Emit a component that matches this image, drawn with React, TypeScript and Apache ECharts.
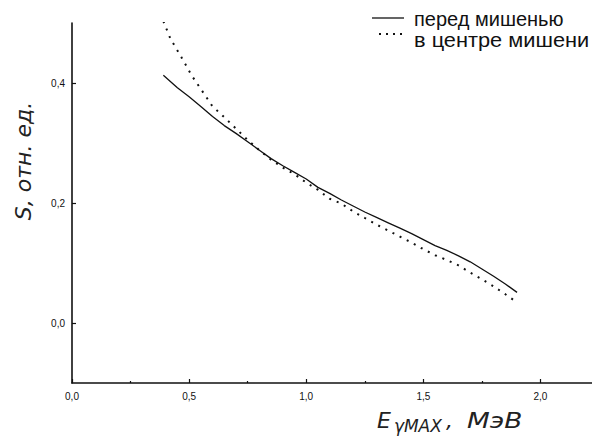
import React, { useEffect, useRef } from "react";
import * as echarts from "echarts";

const xMajorTicks = [0, 0.5, 1.0, 1.5, 2.0];
const xMinorTicks = [0.25, 0.75, 1.25, 1.75];
const yTicks = [0, 0.2, 0.4];

const seriesNames = ["перед мишенью", "в центре мишени"];

const solidX = [0.39, 0.45, 0.5, 0.55, 0.6, 0.65, 0.7, 0.75, 0.8, 0.85, 0.9, 0.95, 1.0, 1.05, 1.1, 1.15, 1.2, 1.25, 1.3, 1.35, 1.4, 1.45, 1.5, 1.55, 1.6, 1.65, 1.7, 1.75, 1.8, 1.85, 1.9];
const solidY = [0.413, 0.392, 0.377, 0.361, 0.344, 0.329, 0.316, 0.302, 0.288, 0.274, 0.262, 0.251, 0.24, 0.226, 0.216, 0.205, 0.195, 0.185, 0.176, 0.167, 0.158, 0.149, 0.139, 0.129, 0.121, 0.112, 0.102, 0.09, 0.078, 0.065, 0.051];

const dottedX = [0.39, 0.42, 0.47, 0.51, 0.55, 0.6, 0.65, 0.7, 0.75, 0.8, 0.85, 0.9, 0.95, 1.0, 1.05, 1.1, 1.15, 1.2, 1.25, 1.3, 1.35, 1.4, 1.45, 1.5, 1.55, 1.6, 1.65, 1.7, 1.75, 1.8, 1.85, 1.89];
const dottedY = [0.503, 0.474, 0.441, 0.413, 0.39, 0.361, 0.343, 0.324, 0.305, 0.288, 0.272, 0.259, 0.248, 0.234, 0.222, 0.207, 0.199, 0.186, 0.175, 0.164, 0.154, 0.144, 0.134, 0.123, 0.113, 0.105, 0.096, 0.084, 0.073, 0.061, 0.048, 0.037];

const fmt = (v: number) => v.toFixed(1).replace(".", ",");

const INK = "#111";

export default function App() {
  const ref = useRef<HTMLDivElement>(null);
  useEffect(() => {
    if (!ref.current) return;
    const chart = echarts.init(ref.current, null, { renderer: "svg" });
    const axisLine = { show: true, onZero: false, lineStyle: { color: INK, width: 1.6 } };
    const legendText = { fontFamily: "Liberation Sans", fontSize: 20, fill: INK, verticalAlign: "middle", align: "left" };
    chart.setOption({
      animation: false,
      backgroundColor: "#fff",
      grid: { left: 72, top: 23, right: 0, bottom: 55, containLabel: false },
      xAxis: [
        {
          type: "value",
          min: 0,
          max: 2.22,
          position: "bottom",
          axisLine,
          axisTick: { show: true, inside: true, length: 4, customValues: xMajorTicks, lineStyle: { color: INK, width: 1.2 } },
          axisLabel: { customValues: xMajorTicks, formatter: fmt, fontFamily: "Liberation Sans", fontSize: 10, color: INK, margin: 8 },
          splitLine: { show: false },
        },
        {
          type: "value",
          min: 0,
          max: 2.22,
          position: "bottom",
          offset: 0,
          axisLine: { show: false, onZero: false },
          axisTick: { show: true, inside: true, length: 2, customValues: xMinorTicks, lineStyle: { color: INK, width: 1.2 } },
          axisLabel: { show: false },
          splitLine: { show: false },
        },
      ],
      yAxis: {
        type: "value",
        min: -0.1,
        max: 0.5,
        axisLine,
        axisTick: { show: true, inside: true, length: 4, customValues: yTicks, lineStyle: { color: INK, width: 1.2 } },
        axisLabel: { customValues: yTicks, formatter: fmt, fontFamily: "Liberation Sans", fontSize: 10, color: INK, margin: 7 },
        splitLine: { show: false },
      },
      graphic: [
        { type: "line", shape: { x1: 372, y1: 18, x2: 404, y2: 18 }, style: { stroke: INK, lineWidth: 1.3 } },
        { type: "text", x: 414, y: 19, style: { ...legendText, text: seriesNames[0] } },
        { type: "line", shape: { x1: 379, y1: 34, x2: 403, y2: 34 }, style: { stroke: INK, lineWidth: 2, lineDash: [2, 5] } },
        { type: "text", x: 414, y: 40, scaleX: 1.09, style: { ...legendText, text: seriesNames[1] } },
        {
          type: "text",
          x: 23,
          y: 161,
          rotation: Math.PI / 2,
          style: {
            text: "S, отн. ед.",
            fontFamily: "DejaVu Sans",
            fontStyle: "italic",
            fontSize: 22,
            fill: "#222",
            align: "center",
            verticalAlign: "middle",
          },
        },
        {
          type: "text",
          x: 377,
          y: 431,
          style: {
            text: "{e|E}{s|γMAX}{e|,}",
            verticalAlign: "bottom",
            align: "left",
            rich: {
              e: { fontFamily: "DejaVu Sans", fontStyle: "italic", fontSize: 22, fill: "#222" },
              s: { fontFamily: "DejaVu Sans", fontStyle: "italic", fontSize: 17, fill: "#222", verticalAlign: "bottom", padding: [0, 4, -3, 3] },
            },
          },
        },
        {
          type: "text",
          x: 467,
          y: 431,
          scaleX: 1.2,
          style: {
            text: "МэВ",
            verticalAlign: "bottom",
            align: "left",
            fontFamily: "DejaVu Sans",
            fontStyle: "italic",
            fontSize: 22,
            fill: "#222",
          },
        },
      ],
      series: [
        {
          name: seriesNames[0],
          type: "line",
          xAxisIndex: 0,
          showSymbol: false,
          symbol: "none",
          data: solidX.map((x, i) => [x, solidY[i]]),
          lineStyle: { color: INK, width: 1.3, type: "solid" },
          itemStyle: { color: INK },
        },
        {
          name: seriesNames[1],
          type: "line",
          xAxisIndex: 0,
          showSymbol: false,
          symbol: "none",
          data: dottedX.map((x, i) => [x, dottedY[i]]),
          lineStyle: { color: INK, width: 2, type: [2, 6] },
          itemStyle: { color: INK },
        },
      ],
    });
    return () => chart.dispose();
  }, []);
  return <div ref={ref} style={{ width: 592, height: 438, position: "absolute", left: 0, top: 0 }} />;
}
